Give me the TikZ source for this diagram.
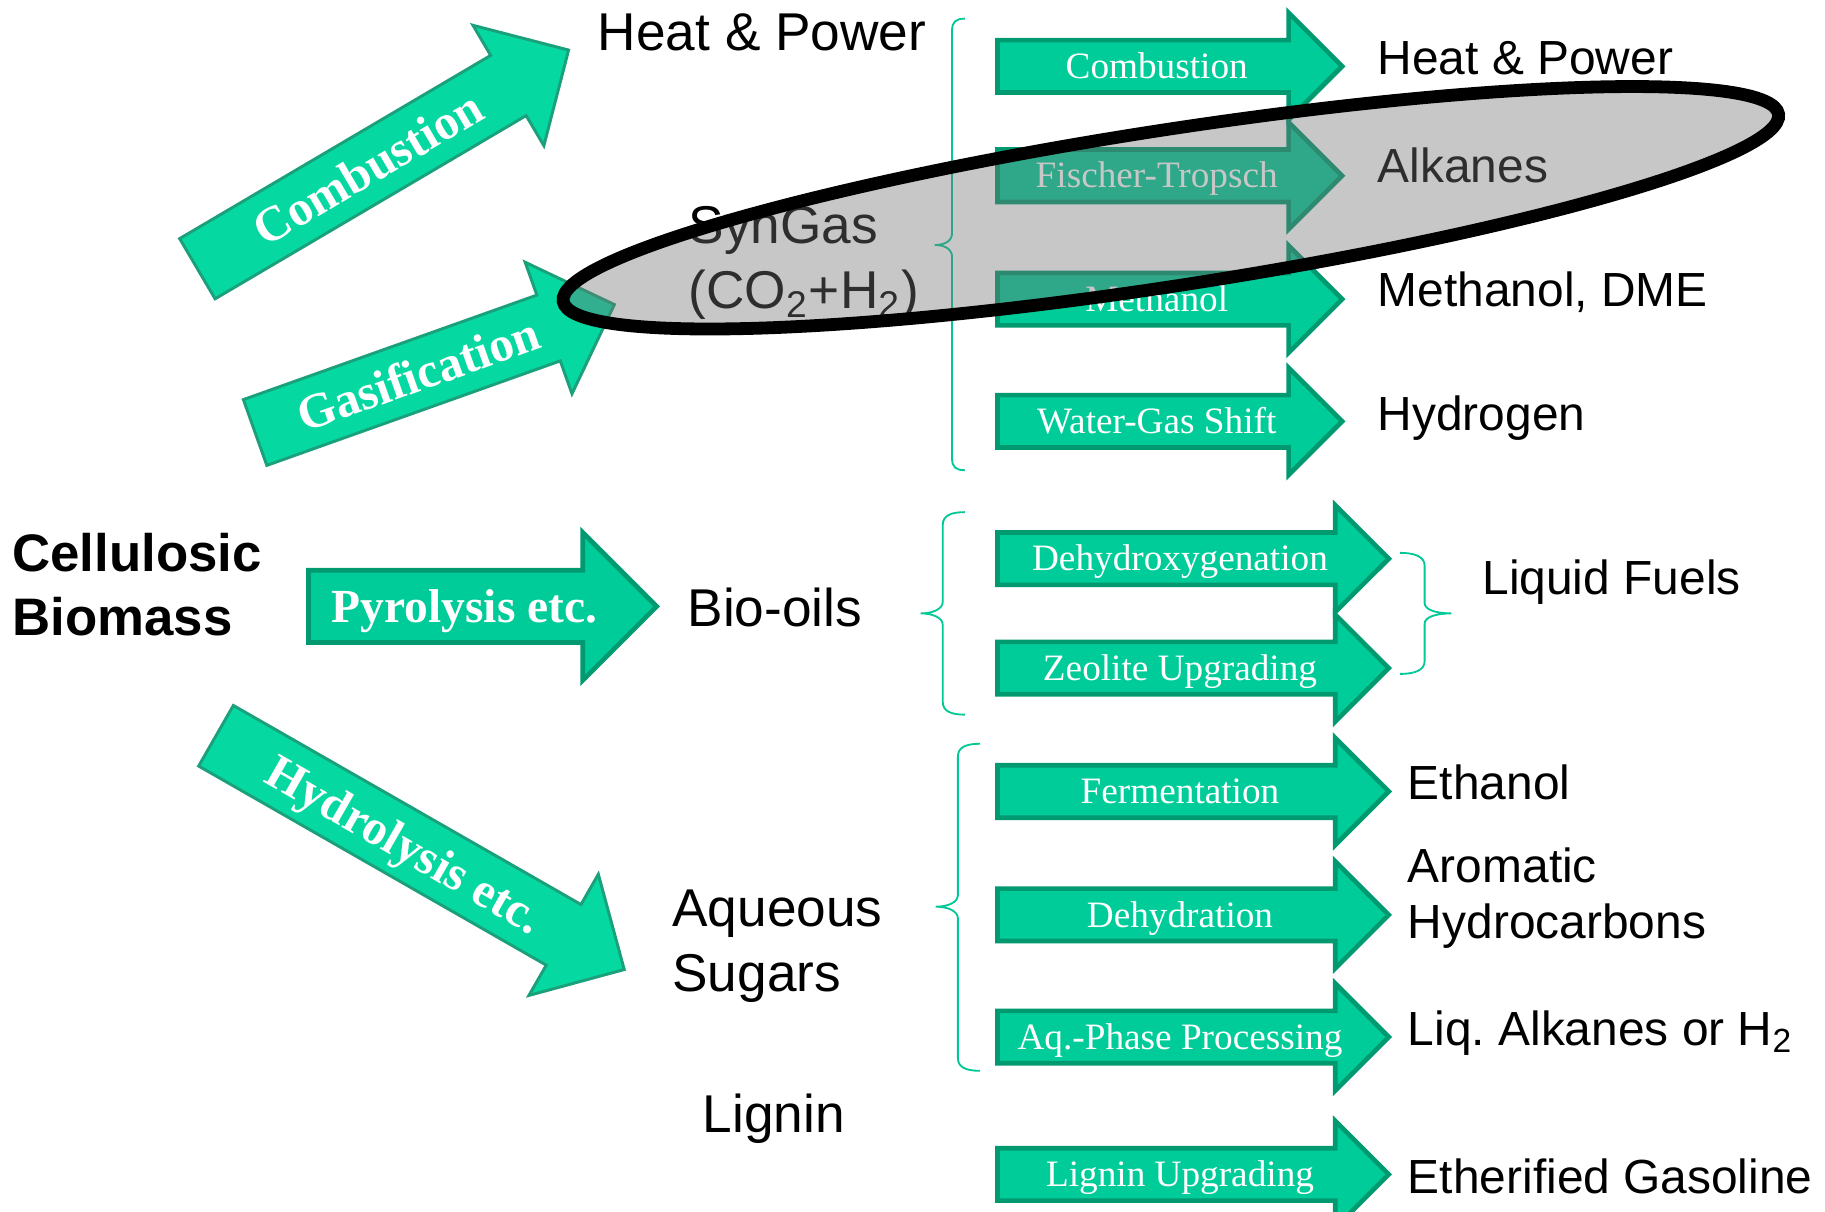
\documentclass[tikz,border=0pt]{standalone}
\usepackage{fontspec}
\setmainfont{Liberation Sans}
\newfontfamily\procfont{Liberation Serif}
\usetikzlibrary{shapes.arrows}
\definecolor{procfill}{RGB}{0,204,153}
\definecolor{procedge}{RGB}{0,153,112}
\definecolor{routefill}{RGB}{6,216,162}
\definecolor{routeedge}{RGB}{26,160,122}
\definecolor{bracecol}{RGB}{0,200,150}

\tikzset{
  procarrow/.style={single arrow, fill=procfill, draw=procedge, line width=0.04cm,
    inner sep=0pt, text height=0.31cm, text depth=0.10cm, anchor=tail,
    single arrow head extend=0.235cm, text=white,
    font=\procfont\fontsize{9.1}{10}\selectfont},
  routearrow/.style={single arrow, fill=routefill, draw=routeedge, line width=0.025cm,
    inner sep=0pt, text height=0.43cm, text depth=0.145cm, anchor=tail,
    single arrow head extend=0.30cm, text=white,
    font=\procfont\bfseries\fontsize{12}{14}\selectfont},
  product/.style={anchor=base west, inner sep=0pt, align=left,
    font=\fontsize{11.7}{15.6}\selectfont},
  inter/.style={product, font=\fontsize{13}{15.8}\selectfont},
  groupbrace/.style={draw=bracecol, line width=0.45pt},
}

\begin{document}
\begin{tikzpicture}[x=0.01cm, y=-0.01cm]
\useasboundingbox (0,0) rectangle (1568,1041);

% Feedstock and first-step routes
\node[product, font=\bfseries\fontsize{12.9}{15.65}\selectfont] (biomass) at (10,546) {Cellulosic\\Biomass};
\node[routearrow, rotate=30.5, minimum height=3.70cm] (combA) at (168.5,231.5) {Combustion};
\node[routearrow, rotate=19.6, minimum height=3.275cm] (gasif) at (218,372) {Gasification};
\node[routearrow, rotate=-29.8, minimum height=4.04cm] (hydrol) at (184.5,631.5) {Hydrolysis etc.};
\node[routearrow, fill=procfill, draw=procedge, line width=0.04cm, text depth=0.15cm,
  single arrow head extend=0.325cm, minimum height=2.99cm,
  font=\procfont\bfseries\fontsize{11.6}{14}\selectfont] (pyrol) at (263,521) {Pyrolysis etc.};

% Intermediates
\node[inter] (heatA) at (513,43) {Heat \& Power};
\node[inter] (syngas) at (591,265) {SynGas\\(CO\textsubscript{2}+H\textsubscript{2})};
\node[inter] (biooil) at (590,538) {Bio-oils};
\node[inter] (sugars) at (577,851.5) {Aqueous\\Sugars};
\node[inter] (lignin) at (603,973) {Lignin};

% Syngas upgrading
\node[procarrow, minimum height=2.96cm] (combB) at (855,57) {Combustion};
\node[procarrow, minimum height=2.96cm] (ftsyn) at (855,151) {Fischer-Tropsch};
\node[procarrow, minimum height=2.96cm] (meoh) at (855,257) {Methanol};
\node[procarrow, minimum height=2.96cm] (wgs) at (855,362) {Water-Gas Shift};

% Bio-oil, sugar and lignin upgrading
\node[procarrow, minimum height=3.36cm] (dehyox) at (855,480) {Dehydroxygenation};
\node[procarrow, minimum height=3.36cm] (zeol) at (855,574) {Zeolite Upgrading};
\node[procarrow, minimum height=3.36cm] (ferm) at (855,680) {Fermentation};
\node[procarrow, minimum height=3.36cm] (dehyd) at (855,786) {Dehydration};
\node[procarrow, minimum height=3.36cm] (apr) at (855,891) {Aq.-Phase Processing};
\node[procarrow, minimum height=3.36cm] (lignup) at (855,1009) {Lignin Upgrading};

% Products
\node[product] (heatB) at (1183,63.6) {Heat \& Power};
\node[product] (alkanes) at (1183,157) {Alkanes};
\node[product] (methanol) at (1183,263) {Methanol, DME};
\node[product] (hydrogen) at (1183,369.5) {Hydrogen};
\node[product] (liqfuel) at (1273,511) {Liquid Fuels};
\node[product] (ethanol) at (1209,687) {Ethanol};
\node[product, font=\fontsize{11.7}{13.7}\selectfont] (aromatic) at (1209,806) {Aromatic\\Hydrocarbons};
\node[product] (liqalk) at (1209,898) {Liq.\ Alkanes or H\textsubscript{2}};
\node[product] (gasoline) at (1209,1025) {Etherified Gasoline};

% Braces
\draw[groupbrace] (829,16) .. controls (821,16) and (818,19) .. (818,26) -- (818,200)
  .. controls (818,207) and (812,210.5) .. (803,210.5) .. controls (812,210.5) and (818,214) .. (818,221)
  -- (818,394) .. controls (818,401) and (821,404) .. (829,404);
\draw[groupbrace] (829,440) .. controls (817,440) and (810,443) .. (810,451) -- (810,517)
  .. controls (810,523) and (802,527) .. (791,527) .. controls (802,527) and (810,531) .. (810,537)
  -- (810,603) .. controls (810,611) and (817,614) .. (829,614);
\draw[groupbrace] (842,639) .. controls (830,639) and (823,642) .. (823,650) -- (823,769)
  .. controls (823,775) and (815,779) .. (804,779) .. controls (815,779) and (823,783) .. (823,789)
  -- (823,909) .. controls (823,917) and (830,920) .. (842,920);
\draw[groupbrace] (1203,475) .. controls (1215,475) and (1224,478) .. (1224,486) -- (1224,518)
  .. controls (1224,524) and (1234,527) .. (1247,527) .. controls (1234,527) and (1224,530) .. (1224,536)
  -- (1224,568) .. controls (1224,576) and (1215,579) .. (1203,579);

% Syngas highlight
\draw[line width=0.11cm, fill=black!55, fill opacity=0.4, rotate around={8.75:(1006,178.5)}]
  (1006,178.5) ellipse [x radius=5.28cm, y radius=0.67cm];
\end{tikzpicture}
\end{document}
